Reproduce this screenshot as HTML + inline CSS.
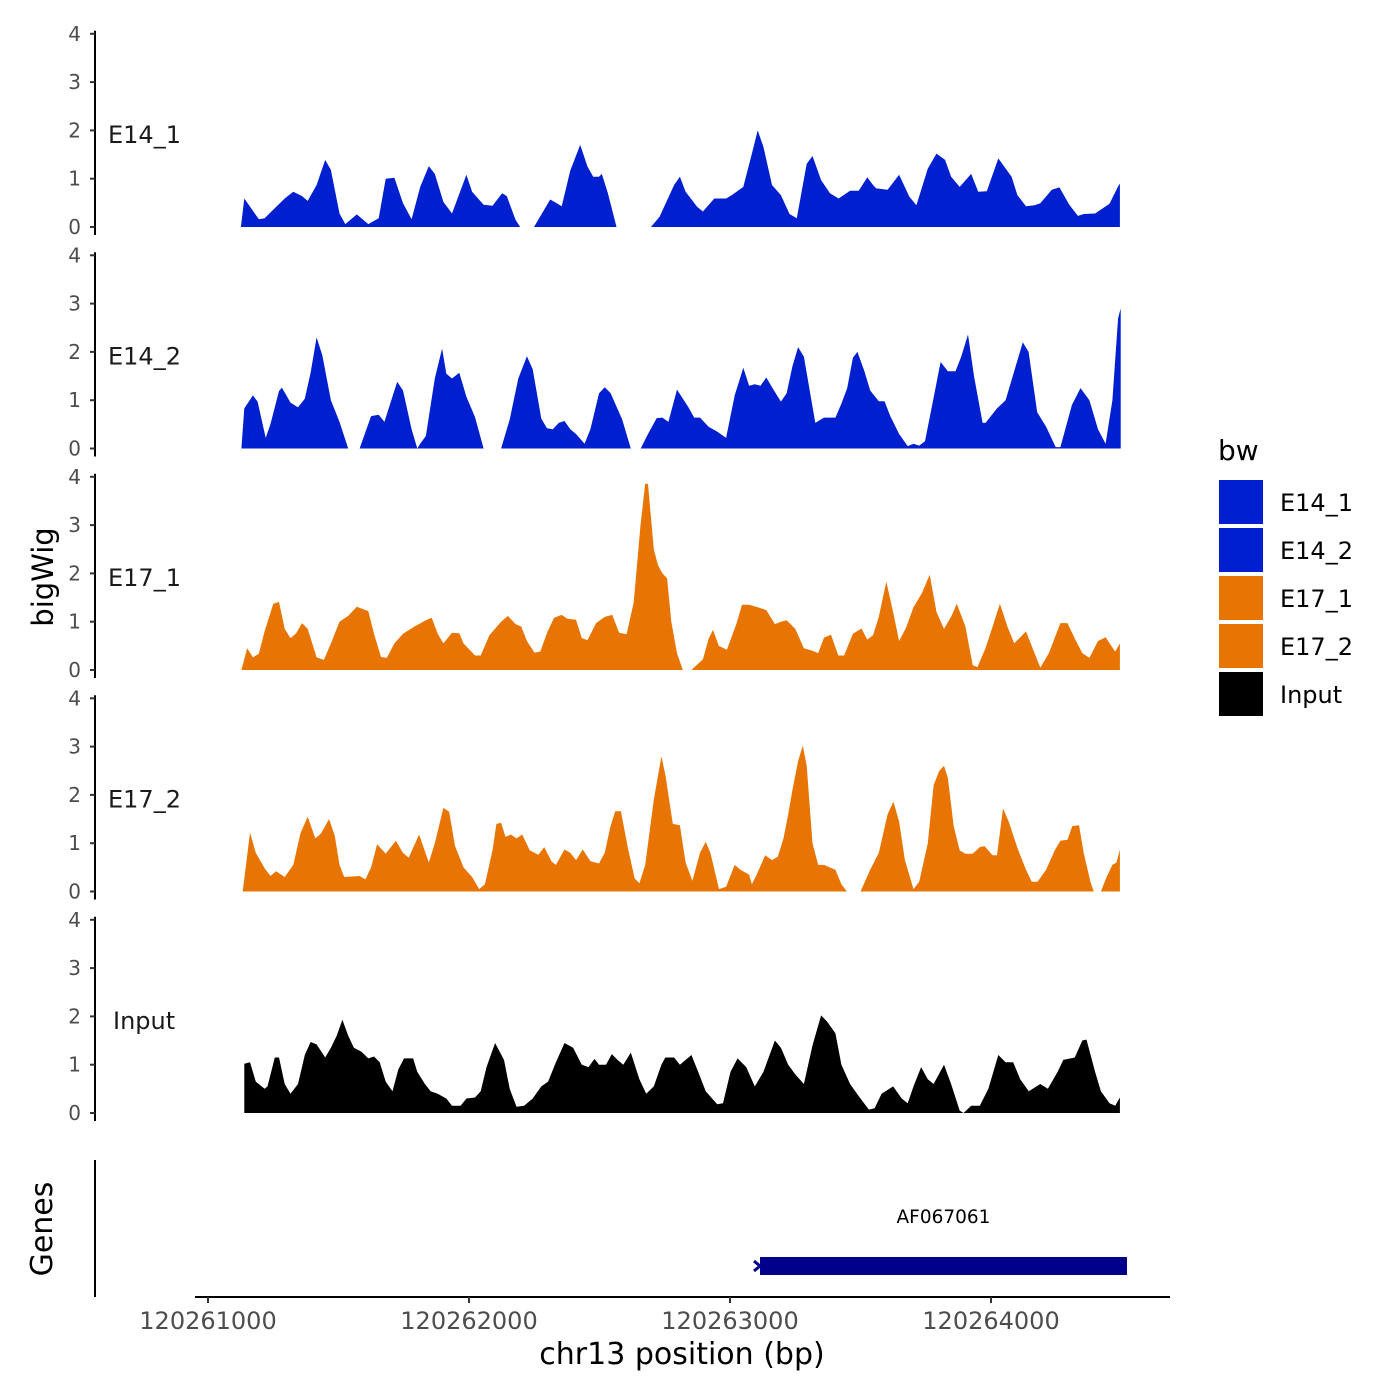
<!DOCTYPE html>
<html><head><meta charset="utf-8"><style>
body{margin:0;background:#fff;}
svg{display:block;font-family:"DejaVu Sans","Liberation Sans",sans-serif;}
</style></head><body>
<svg id="chart" width="1400" height="1400" viewBox="0 0 1400 1400"></svg>
<script>
// genomic positions relative to 120261000 bp, and signal values
const xStartBp = 120261000;
const trackNames = ["E14_1","E14_2","E17_1","E17_2","Input"];
const trackColors = ["#0020CF","#0020CF","#E87503","#E87503","#000000"];
const e14_1Pos = [126,139,195,217,239,294,327,360,382,416,449,471,504,526,570,614,654,681,714,747,780,813,846,869,902,935,990,1012,1056,1090,1127,1145,1178,1196,1249,1311,1333,1355,1388,1426,1454,1476,1498,1509,1532,1565,1697,1730,1786,1808,1830,1874,1896,1940,1985,2007,2051,2084,2106,2128,2161,2195,2228,2256,2294,2316,2349,2383,2416,2460,2493,2526,2548,2560,2604,2648,2687,2714,2758,2791,2824,2847,2880,2924,2951,2984,3028,3079,3101,3134,3167,3189,3233,3262,3300,3333,3355,3399,3454,3487,3494];
const e14_1Val = [0,0.59,0.16,0.18,0.3,0.59,0.73,0.64,0.54,0.87,1.39,1.18,0.28,0.06,0.26,0.06,0.18,1.0,1.02,0.49,0.16,0.83,1.26,1.1,0.52,0.28,1.08,0.73,0.46,0.44,0.7,0.64,0.15,0,0,0.57,0.5,0.43,1.17,1.7,1.25,1.04,1.04,1.1,0.7,0,0,0.21,0.87,1.04,0.73,0.42,0.32,0.59,0.59,0.66,0.83,1.52,2.0,1.66,0.87,0.66,0.27,0.18,1.31,1.47,0.97,0.7,0.59,0.75,0.75,1.03,0.87,0.8,0.77,1.08,0.63,0.45,1.21,1.52,1.39,1.04,0.83,1.1,0.73,0.74,1.42,1.04,0.66,0.43,0.45,0.49,0.77,0.82,0.46,0.23,0.27,0.28,0.48,0.84,0.9];
const e14_2Pos = [128,139,172,190,221,239,272,283,316,345,371,393,416,438,471,504,537,581,625,654,676,725,747,780,802,813,835,869,897,913,935,963,990,1023,1056,1123,1156,1189,1222,1244,1277,1299,1321,1344,1366,1388,1410,1443,1465,1498,1520,1542,1587,1620,1658,1686,1719,1741,1764,1797,1841,1863,1885,1918,1951,1985,2018,2051,2073,2095,2117,2139,2161,2195,2217,2239,2261,2283,2327,2360,2404,2427,2449,2471,2488,2515,2537,2570,2592,2614,2648,2681,2703,2725,2747,2780,2807,2835,2864,2886,2912,2935,2968,2979,3023,3056,3089,3122,3144,3177,3211,3248,3266,3310,3343,3377,3410,3439,3465,3487,3497];
const e14_2Val = [0,0.83,1.1,0.97,0.22,0.5,1.19,1.26,0.95,0.85,1.03,1.57,2.3,1.93,1.0,0.55,0,0,0.67,0.7,0.55,1.38,1.2,0.4,0,0.1,0.26,1.45,2.07,1.55,1.45,1.57,1.07,0.65,0,0,0.6,1.45,1.91,1.64,0.62,0.42,0.4,0.53,0.57,0.4,0.3,0.1,0.4,1.14,1.27,1.15,0.6,0,0,0.3,0.63,0.64,0.55,1.22,0.85,0.64,0.64,0.45,0.35,0.22,1.1,1.67,1.3,1.33,1.3,1.47,1.27,0.97,1.14,1.7,2.1,1.9,0.53,0.64,0.64,0.93,1.25,1.88,2.0,1.6,1.2,0.98,0.98,0.67,0.3,0.05,0.1,0.06,0.15,1.05,1.79,1.6,1.6,1.9,2.36,1.5,0.53,0.53,0.83,1.0,1.6,2.2,2.0,0.75,0.45,0.03,0.03,0.9,1.25,1.0,0.4,0.1,1.0,2.7,2.9];
const e17_1Pos = [128,150,172,195,217,250,272,294,316,338,360,382,416,444,471,504,537,570,614,636,663,685,714,747,791,835,857,880,902,935,963,979,1023,1045,1078,1123,1149,1178,1200,1222,1251,1273,1299,1326,1355,1377,1410,1432,1454,1487,1520,1549,1575,1604,1631,1657,1675,1686,1708,1724,1741,1759,1775,1797,1819,1852,1896,1918,1935,1957,1988,2024,2046,2073,2106,2139,2172,2195,2217,2250,2283,2316,2338,2360,2387,2415,2437,2471,2504,2526,2548,2570,2599,2625,2648,2674,2703,2736,2765,2791,2820,2847,2869,2902,2930,2948,2979,3006,3034,3063,3089,3134,3156,3189,3222,3266,3293,3321,3350,3377,3410,3439,3476,3494];
const e17_1Val = [0,0.45,0.26,0.34,0.8,1.37,1.41,0.85,0.66,0.76,0.97,0.85,0.26,0.21,0.55,1.0,1.12,1.31,1.22,0.75,0.27,0.25,0.55,0.75,0.9,1.03,1.08,0.75,0.55,0.77,0.76,0.55,0.3,0.3,0.72,1.0,1.12,0.95,0.9,0.6,0.36,0.38,0.77,1.08,1.14,1.06,1.04,0.66,0.62,0.97,1.1,1.14,0.77,0.74,1.4,3.0,3.86,3.85,2.5,2.17,2.0,1.9,1.0,0.35,0,0,0.22,0.65,0.83,0.5,0.42,0.95,1.35,1.35,1.3,1.24,0.95,1.0,1.03,0.85,0.45,0.4,0.35,0.67,0.73,0.3,0.3,0.75,0.86,0.63,0.72,1.1,1.83,1.2,0.6,0.87,1.3,1.6,1.97,1.2,0.85,1.1,1.37,0.9,0.1,0.06,0.45,0.9,1.37,0.9,0.55,0.8,0.5,0.05,0.35,0.97,0.97,0.65,0.35,0.25,0.6,0.68,0.38,0.55];
const e17_2Pos = [133,161,183,217,239,261,294,327,354,382,411,433,464,486,504,522,581,603,625,648,681,720,747,769,809,846,869,902,924,946,979,1012,1039,1061,1090,1105,1123,1140,1160,1182,1204,1233,1266,1288,1317,1333,1366,1388,1410,1436,1465,1498,1520,1542,1560,1582,1609,1635,1653,1675,1708,1737,1753,1781,1808,1830,1856,1885,1907,1925,1958,1985,2018,2040,2073,2084,2106,2135,2161,2183,2205,2223,2239,2261,2279,2294,2316,2338,2360,2382,2404,2427,2448,2500,2537,2570,2604,2626,2648,2670,2703,2725,2758,2780,2802,2820,2835,2857,2880,2902,2930,2957,2975,3006,3023,3046,3068,3101,3134,3156,3178,3211,3244,3266,3293,3311,3337,3355,3381,3394,3421,3443,3465,3481,3494];
const e17_2Val = [0,1.22,0.8,0.48,0.32,0.42,0.3,0.55,1.2,1.55,1.1,1.2,1.5,1.15,0.55,0.3,0.32,0.25,0.5,0.98,0.78,1.05,0.8,0.7,1.18,0.6,1.0,1.73,1.65,0.95,0.5,0.3,0.05,0.15,0.85,1.4,1.42,1.13,1.18,1.1,1.18,0.85,0.76,0.92,0.62,0.55,0.87,0.8,0.65,0.87,0.63,0.58,0.8,1.35,1.66,1.66,0.9,0.27,0.17,0.55,1.9,2.8,2.4,1.4,1.37,0.6,0.22,0.8,1.03,0.8,0.05,0.1,0.55,0.45,0.35,0.15,0.4,0.75,0.65,0.72,1.1,1.6,2.1,2.7,3.02,2.6,1.0,0.55,0.55,0.5,0.45,0.15,0,0,0.45,0.8,1.6,1.86,1.45,0.65,0.05,0.2,1.0,2.2,2.5,2.6,2.35,1.35,0.85,0.78,0.78,0.92,0.94,0.75,0.75,1.72,1.45,0.9,0.45,0.2,0.2,0.45,0.85,1.05,1.07,1.35,1.37,0.8,0.2,0,0,0.3,0.55,0.6,0.87];
const inputPos = [139,161,183,217,228,256,272,294,316,345,371,393,416,449,471,493,515,537,559,588,614,636,658,681,707,729,751,786,802,831,853,880,913,935,968,990,1023,1045,1067,1100,1134,1156,1182,1211,1244,1277,1303,1333,1366,1399,1432,1458,1481,1498,1525,1547,1569,1591,1620,1653,1679,1708,1737,1752,1786,1808,1852,1878,1907,1951,1973,2002,2029,2062,2095,2128,2172,2195,2223,2250,2283,2316,2349,2371,2404,2427,2460,2493,2532,2554,2581,2625,2658,2681,2703,2732,2758,2780,2820,2847,2880,2895,2924,2957,2990,3028,3056,3085,3112,3145,3189,3218,3255,3277,3321,3350,3366,3399,3421,3454,3476,3494];
const inputVal = [1.02,1.05,0.65,0.5,0.55,1.15,1.15,0.6,0.4,0.6,1.2,1.47,1.42,1.15,1.35,1.6,1.93,1.6,1.35,1.27,1.13,1.17,1.05,0.65,0.45,0.9,1.13,1.13,0.85,0.6,0.45,0.4,0.3,0.15,0.15,0.3,0.32,0.45,0.95,1.45,1.1,0.5,0.13,0.15,0.3,0.55,0.65,1.05,1.45,1.35,1.0,0.95,1.12,1.0,1.0,1.22,1.1,1.0,1.25,0.7,0.4,0.55,1.0,1.15,1.15,1.0,1.2,0.85,0.45,0.18,0.2,0.85,1.13,0.95,0.55,0.85,1.5,1.35,1.0,0.8,0.6,1.4,2.02,1.9,1.65,1.0,0.6,0.35,0.07,0.1,0.4,0.55,0.3,0.2,0.55,0.95,0.7,0.6,1.0,0.6,0.05,0,0.15,0.15,0.5,1.2,1.05,1.05,0.7,0.45,0.6,0.5,0.85,1.1,1.15,1.5,1.52,0.85,0.45,0.2,0.15,0.32];
const xTicks = [120261000,120262000,120263000,120264000];
const yTicks = [0,1,2,3,4];
const geneName = "AF067061";
const geneStart = 120263115, geneEnd = 120264521;

const posArrays = [e14_1Pos,e14_2Pos,e17_1Pos,e17_2Pos,inputPos];
const valArrays = [e14_1Val,e14_2Val,e17_1Val,e17_2Val,inputVal];

const svg = document.getElementById('chart');
const NS = 'http://www.w3.org/2000/svg';
function mk(tag, attrs, text){
  const e = document.createElementNS(NS, tag);
  for (const k in attrs) e.setAttribute(k, attrs[k]);
  if (text !== undefined) e.textContent = text;
  svg.appendChild(e);
  return e;
}
const xScale = bp => 208 + (bp - 120261000) * 0.261;
const panelBase = i => 227 + i * 221.5;
const yScale = (i, v) => panelBase(i) - v * 48.3;

trackNames.forEach((name, i) => {
  const base = panelBase(i);
  const P = posArrays[i], V = valArrays[i];
  let d = 'M' + xScale(xStartBp + P[0]).toFixed(1) + ',' + base;
  for (let j = 0; j < P.length; j++) d += ' L' + xScale(xStartBp + P[j]).toFixed(1) + ',' + yScale(i, V[j]).toFixed(1);
  d += ' L' + xScale(xStartBp + P[P.length-1]).toFixed(1) + ',' + base + ' Z';
  const area = mk('path', {d: d, fill: trackColors[i]});
  
  
  const ax = mk('line', {x1: 95, x2: 95, y1: yScale(i, 4) - 3, y2: base + 8, stroke: '#000', 'stroke-width': 2});
  
  
  yTicks.forEach(t => {
    const y = yScale(i, t);
    const tk = mk('line', {x1: 90, x2: 95, y1: y, y2: y, stroke: '#333', 'stroke-width': 2});
    
    
    const tl = mk('text', {x: 81, y: y + 7, 'text-anchor': 'end', 'font-size': 20, fill: '#4d4d4d'}, String(t));
    
    
  });
  const lab = mk('text', {x: i === 4 ? 113 : 108, y: base - 84, 'font-size': 24, fill: '#1a1a1a'}, name);
  
  
});

let t1 = mk('text', {x: 0, y: 0, 'font-size': 29, fill: '#000', transform: 'translate(53,577) rotate(-90)', 'text-anchor': 'middle'}, 'bigWig');


let t2 = mk('text', {x: 0, y: 0, 'font-size': 30, fill: '#000', transform: 'translate(52,1229) rotate(-90)', 'text-anchor': 'middle'}, 'Genes');


let ga = mk('line', {x1: 95, x2: 95, y1: 1160, y2: 1297, stroke: '#000', 'stroke-width': 2});



let gb = mk('rect', {x: xScale(geneStart), y: 1257, width: xScale(geneEnd) - xScale(geneStart), height: 18, fill: '#00008B'});


let ga2 = mk('path', {d: 'M754,1261 L760,1266 L754,1271', stroke: '#00008B', 'stroke-width': 3, fill: 'none'});


let gl = mk('text', {x: (xScale(geneStart) + xScale(geneEnd)) / 2, y: 1223, 'text-anchor': 'middle', 'font-size': 18.5, fill: '#000'}, geneName);



let xa = mk('line', {x1: 195, x2: 1170, y1: 1297, y2: 1297, stroke: '#000', 'stroke-width': 2});


xTicks.forEach(t => {
  const x = xScale(t);
  const tk = mk('line', {x1: x, x2: x, y1: 1297, y2: 1303, stroke: '#333', 'stroke-width': 2});
  
  
  const tl = mk('text', {x: x, y: 1329, 'text-anchor': 'middle', 'font-size': 24, fill: '#4d4d4d'}, String(t));
  
  
});
let xt = mk('text', {x: 682, y: 1364, 'text-anchor': 'middle', 'font-size': 30, fill: '#000'}, 'chr13 position (bp)');



let lt = mk('text', {x: 1218, y: 460, 'font-size': 28, fill: '#000'}, 'bw');


trackNames.forEach((name, i) => {
  const y = 480 + i * 48;
  const r = mk('rect', {x: 1219, y: y, width: 44, height: 44, fill: trackColors[i]});
  
  
  const tx = mk('text', {x: 1280, y: y + 31, 'font-size': 24, fill: '#000'}, name);
  
  
});
</script>
</body></html>
